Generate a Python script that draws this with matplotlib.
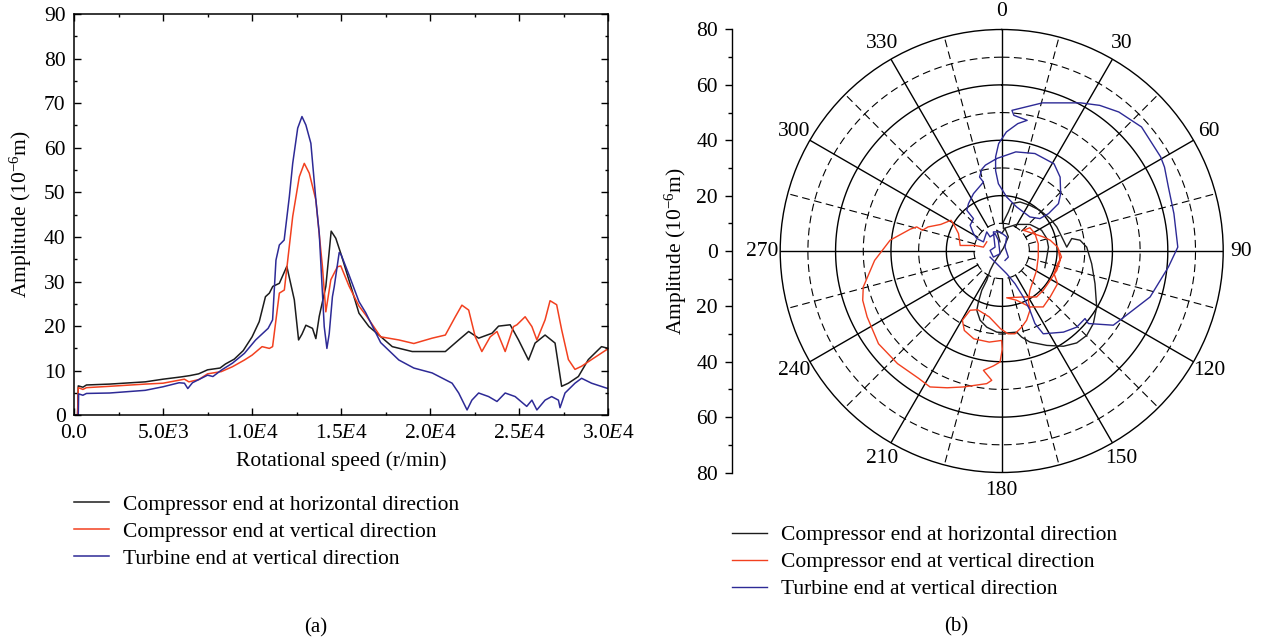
import numpy as np
import matplotlib.pyplot as plt
from matplotlib.ticker import MultipleLocator

plt.rcParams['font.family'] = 'Liberation Serif'
plt.rcParams['mathtext.fontset'] = 'custom'
plt.rcParams['mathtext.rm'] = 'Liberation Serif'
plt.rcParams['mathtext.it'] = 'Liberation Serif:italic'

# ---------------- data: (a) amplitude vs rotational speed ----------------
black_rpm = [0, 200, 240, 500, 700, 2000, 4000, 5000, 6000, 6500, 7000, 7500, 8200, 8500,
             9000, 9500, 10000, 10400, 10750, 10970, 11160, 11530, 11950, 12370, 12610,
             12800, 13020, 13390, 13580, 13770, 14140, 14440, 14700, 14980, 15440, 16000,
             16560, 17120, 17870, 18990, 20110, 20850, 21600, 22160, 22720, 23470, 23840,
             24490, 24960, 25520, 25890, 26450, 27010, 27380, 27760, 28320, 28880, 29620, 30000]
black_amp = [0, 0, 6.6, 6.3, 6.8, 7.0, 7.5, 8.1, 8.6, 8.9, 9.3, 10.2, 10.6, 11.5,
             12.6, 14.5, 17.6, 21.0, 26.6, 27.4, 28.9, 29.6, 33.4, 25.9, 16.9,
             18.2, 20.2, 19.5, 17.2, 22.2, 28.9, 41.3, 39.7, 36.3, 30.3, 22.9,
             19.9, 18.0, 15.4, 14.3, 14.3, 14.3, 16.9, 18.8, 17.3, 18.4, 20.0,
             20.3, 16.9, 12.4, 16.2, 18.0, 16.2, 6.5, 7.2, 8.7, 12.5, 15.4, 15.0]

red_rpm = [0, 200, 240, 500, 700, 2000, 4000, 5000, 6200, 6450, 7000, 7500, 8270, 8900,
           9570, 10000, 10560, 10970, 11150, 11530, 11810, 12280, 12650, 12930, 13210,
           13580, 13950, 14140, 14420, 14790, 14980, 15440, 16000, 16380, 17220, 18240,
           19080, 20110, 20850, 21410, 21780, 22160, 22530, 22900, 23370, 23750, 24210,
           24680, 24870, 25330, 25710, 25990, 26450, 26730, 27100, 27380, 27760, 28130,
           28500, 29060, 29900, 30000]
red_amp = [0, 0, 6.2, 5.8, 6.2, 6.5, 7.0, 7.2, 8.1, 7.5, 8.0, 9.3, 9.8, 10.9,
           12.4, 13.5, 15.4, 15.0, 15.4, 27.4, 28.1, 44.6, 53.5, 56.5, 54.3,
           48.3, 33.3, 23.2, 30.4, 33.3, 33.5, 29.0, 24.5, 22.5, 17.6, 16.9,
           16.1, 17.3, 18.0, 22.1, 24.7, 23.6, 17.6, 14.3, 17.6, 18.8, 14.3,
           19.9, 20.3, 22.1, 19.9, 16.9, 21.4, 25.7, 24.8, 19.2, 12.5, 10.3,
           11.0, 12.5, 14.7, 14.8]

blue_rpm = [0, 240, 260, 500, 700, 2000, 4000, 5000, 5900, 6200, 6390, 6650, 7500, 7800,
            8300, 8900, 9570, 10200, 10900, 11150, 11340, 11530, 11800, 12090, 12280,
            12560, 12800, 13020, 13300, 13580, 13770, 14050, 14200, 14330, 14510, 14610,
            14890, 15000, 15440, 16000, 16380, 17220, 18240, 19080, 20110, 21230, 21600,
            22070, 22340, 22720, 23280, 23750, 24210, 24770, 25420, 25710, 25990, 26450,
            26820, 27200, 27290, 27570, 28130, 28500, 29060, 29900, 30000]
blue_amp = [0, 0, 4.8, 4.5, 4.9, 5.0, 5.6, 6.4, 7.3, 7.2, 6.0, 7.3, 9.0, 8.7,
            10.2, 11.7, 13.9, 16.9, 19.5, 21.4, 34.8, 38.2, 39.3, 49.0, 56.5,
            64.4, 67.0, 65.1, 61.0, 48.3, 40.8, 19.9, 15.0, 18.3, 26.6, 28.8,
            36.5, 36.0, 31.5, 25.5, 23.0, 16.3, 12.4, 10.6, 9.5, 7.2, 5.0,
            1.2, 3.4, 5.0, 4.2, 3.1, 5.0, 4.2, 2.0, 3.4, 1.2, 3.4,
            4.2, 3.4, 1.7, 5.0, 7.2, 8.3, 7.2, 6.1, 6.0]

speed_ticks = [0, 5000, 10000, 15000, 20000, 25000, 30000]
speed_labels = ['0.0', r'5.0$\mathit{E}$3', r'1.0$\mathit{E}$4', r'1.5$\mathit{E}$4',
                r'2.0$\mathit{E}$4', r'2.5$\mathit{E}$4', r'3.0$\mathit{E}$4']

# ---------------- data: (b) polar plot, horizontal / vertical components (10^-6 m) ----------------
black_h = [-0.6, -1.8, 0.0, 1.2, 2.4, 0.6, -3.0, -4.2, -5.4, -7.2, -8.4, -9.0, -7.8, -5.4, -1.8,
           1.8, 5.4, 7.2, 10.2, 16.3, 22.3, 27.1, 30.7, 33.1, 34.3, 33.7, 32.5, 30.7, 28.3, 25.3,
           23.5, 21.1, 19.9, 17.5, 13.8, 10.2, 6.6, 3.6, 2.4, 0.6, 0.6, 5.4, 10.2, 14.4, 16.3,
           16.9, 16.3, 15.6]
black_v = [3.3, 7.5, 6.3, 8.1, 5.1, 1.0, -4.6, -7.0, -10.6, -14.2, -18.4, -21.4, -25.0, -27.5, -29.3,
           -29.6, -29.3, -31.1, -32.9, -34.1, -34.4, -33.2, -30.5, -26.2, -20.2, -11.8, -4.6, 1.4, 3.9, 4.5,
           1.4, 6.3, 8.7, 11.7, 14.7, 16.5, 17.7, 17.1, 14.1, 10.5, 8.1, 9.6, 9.6, 7.5, 4.5,
           1.4, -2.2, -6.0]

red_h = [-5.4, -6.6, -9.6, -15.0, -15.6, -17.0, -18.3, -22.0, -26.6, -28.6, -30.7, -33.0, -40.3,
         -45.9, -50.0, -50.2, -48.6, -44.5, -37.6, -30.0, -25.9, -19.7, -13.8, -5.4, -3.6, -6.6,
         -3.0, -0.6, 0.2, 0.0, -4.5, -10.1, -13.5, -14.2, -11.4, -8.7, -4.5, -0.4, 2.3, 4.8, 7.2,
         9.0, 10.2, 9.6, 10.2, 11.4, 12.6, 13.2, 13.2, 12.0, 10.2, 7.8, 15.0, 17.5, 20.2, 21.6,
         20.2, 18.9, 20.2, 17.5, 15.0, 10.2, 5.4, 1.8, 7.8, 12.6, 15.0, 17.5, 19.9, 21.1, 20.5]
red_v = [3.3, 1.4, 2.0, 2.0, 6.3, 9.0, 11.1, 9.6, 8.7, 7.5, 8.7, 7.9, 3.9,
         -3.4, -13.0, -17.8, -23.8, -33.5, -40.7, -46.0, -49.1, -49.4, -49.1, -47.9, -46.7, -43.1,
         -41.5, -40.1, -35.5, -32.3, -32.9, -31.7, -28.7, -25.0, -21.4, -21.2, -23.8, -28.1, -29.9, -29.9, -27.5,
         -25.0, -21.4, -17.8, -14.2, -10.6, -7.0, -2.2, 2.6, 6.3, 8.4, 7.5, 5.1, 3.9, 1.4, -2.2,
         -4.6, -8.2, -11.8, -16.6, -20.2, -20.2, -17.8, -16.9, -16.6, -16.6, -14.2, -10.6, -7.0, -3.4, 0.2]

blue_h = [1.2, 2.4, 1.2, 1.8, -0.6, -3.0, -2.4, -4.2, -3.0, -0.6, -1.2, -2.4, -4.2, -5.4, -6.6,
          -9.0, -10.2, -11.4, -10.2, -12.6, -12.0, -10.2, -6.6, -8.0, -7.2, -5.9, -1.8, 5.1, 12.0, 18.9,
          21.1, 21.3, 20.5, 16.9, 13.8, 10.2, 5.4, 1.8, -1.2, -2.2, -2.2, -1.1, 1.7, 5.8, 9.2,
          4.4, 3.7, 14.7, 28.5, 35.4, 42.3, 50.5, 57.4, 58.8, 60.2, 62.2, 63.6, 60.2, 53.6, 42.7,
          40.3, 31.3, 30.1, 27.1, 22.3, 15.0, 12.0, 10.2, 7.8, 4.8, 1.8, -1.8, -4.2]
blue_v = [-3.4, -2.2, 1.4, 5.1, 6.9, 6.9, 1.4, 0.2, -2.2, -1.0, 3.9, 6.3, 5.1, 6.9, 3.3,
          4.5, 6.3, 9.3, 11.7, 14.7, 17.1, 20.7, 24.9, 26.7, 29.5, 31.0, 33.4, 35.8, 35.2, 31.5,
          26.7, 20.7, 17.1, 13.5, 11.7, 12.3, 15.9, 19.5, 24.3, 29.0, 34.0, 38.8, 43.0, 46.0, 47.2,
          49.0, 50.8, 53.5, 53.5, 52.6, 50.2, 44.8, 34.0, 30.3, 23.1, 13.5, 1.4, -5.8, -16.6, -25.0,
          -26.8, -26.2, -24.4, -27.5, -29.3, -29.9, -26.2, -21.4, -16.6, -11.8, -8.2, -4.6, -2.2]

angle_ticks = list(range(0, 360, 30))
amp_ticks = [-80, -60, -40, -20, 0, 20, 40, 60, 80]

labels = ['Compressor end at horizontal direction',
          'Compressor end at vertical direction',
          'Turbine end at vertical direction']
colors = ['#1c1c1c', '#f2401f', '#2d2a96']

W, H = 1262, 644
fig = plt.figure(figsize=(W / 100, H / 100), dpi=100)

# ================= (a) =================
ax1 = fig.add_axes([74 / W, 1 - 415.3 / H, 534.3 / W, 401.3 / H])
l1, = ax1.plot(black_rpm, black_amp, color=colors[0], lw=1.1)
l2, = ax1.plot(red_rpm, red_amp, color=colors[1], lw=1.1)
l3, = ax1.plot(blue_rpm, blue_amp, color=colors[2], lw=1.1)
ax1.set_xlim(0, 30000)
ax1.set_ylim(0, 90)
ax1.set_xticks(speed_ticks, speed_labels)
ax1.xaxis.set_minor_locator(MultipleLocator(2500))
ax1.yaxis.set_major_locator(MultipleLocator(10))
ax1.yaxis.set_minor_locator(MultipleLocator(5))
ax1.tick_params(which='both', direction='in', top=True, right=True, labelsize=15.5, width=1)
ax1.tick_params(which='major', length=5, pad=6)
ax1.tick_params(which='minor', length=2.5)
for s in ax1.spines.values():
    s.set_linewidth(1.1)
ax1.set_xlabel('Rotational speed (r/min)', fontsize=15.5, labelpad=6)
ax1.set_ylabel(r'Amplitude (10$^{\mathrm{-6}}$m)', fontsize=15.5, labelpad=7)

fig.legend([l1, l2, l3], labels, loc='upper left', bbox_to_anchor=(74 / W, 1 - 494.5 / H),
           frameon=False, borderpad=0, borderaxespad=0, handlelength=1.63,
           handletextpad=0.64, labelspacing=0.33, fontsize=15.5)

# ================= (b) =================
axp = fig.add_axes([780.2 / W, 1 - 472.5 / H, 443 / W, 443 / H], projection='polar')
axp.set_theta_zero_location('N')
axp.set_theta_direction(-1)
axp.set_ylim(0, 80)
axp.set_yticks([])
axp.grid(False)
axp.set_xticks(np.radians(angle_ticks))
axp.set_xticklabels([str(a) for a in angle_ticks])
axp.tick_params(axis='x', labelsize=15.5, pad=2.5)
axp.spines['polar'].set_linewidth(1.0)

circ = np.linspace(0, 2 * np.pi, 400)
for r in [20, 40, 60]:
    axp.plot(circ, np.full_like(circ, r), color='black', lw=1.0)
for r in [10, 30, 50, 70]:
    axp.plot(circ, np.full_like(circ, r), color='black', lw=0.8, ls=(0, (7, 4)))
for a in range(0, 360, 30):
    axp.plot([np.radians(a)] * 2, [10, 80], color='black', lw=1.0)
    axp.plot([np.radians(a + 15)] * 2, [10, 80], color='black', lw=0.8, ls=(0, (7, 4)))

p1, = axp.plot(np.arctan2(black_h, black_v), np.hypot(black_h, black_v), color=colors[0], lw=1.0)
p2, = axp.plot(np.arctan2(red_h, red_v), np.hypot(red_h, red_v), color=colors[1], lw=1.0)
p3, = axp.plot(np.arctan2(blue_h, blue_v), np.hypot(blue_h, blue_v), color=colors[2], lw=1.0)

# amplitude scale on the left of the polar plot
axa = fig.add_axes([731.7 / W, 1 - 472.5 / H, 0.0001, 443 / H])
axa.set_ylim(-80, 80)
axa.set_yticks(amp_ticks, [str(abs(t)) for t in amp_ticks])
axa.yaxis.set_minor_locator(MultipleLocator(10))
axa.set_xticks([])
axa.patch.set_visible(False)
for side in ['top', 'right', 'bottom']:
    axa.spines[side].set_visible(False)
axa.spines['left'].set_linewidth(1.0)
axa.tick_params(axis='y', which='both', direction='out', labelsize=15.5, width=1)
axa.tick_params(axis='y', which='major', length=5, pad=5)
axa.tick_params(axis='y', which='minor', length=3)
axa.set_ylabel(r'Amplitude (10$^{\mathrm{-6}}$m)', fontsize=15.5, labelpad=5)

fig.legend([p1, p2, p3], labels, loc='upper left', bbox_to_anchor=(731.7 / W, 1 - 525 / H),
           frameon=False, borderpad=0, borderaxespad=0, handlelength=1.63,
           handletextpad=0.64, labelspacing=0.33, fontsize=15.5)

fig.text(316 / W, 1 - 628 / H, '(a)', ha='center', va='center', fontsize=15)
fig.text(956 / W, 1 - 627 / H, '(b)', ha='center', va='center', fontsize=15)

fig.savefig('out.png', dpi=100)
